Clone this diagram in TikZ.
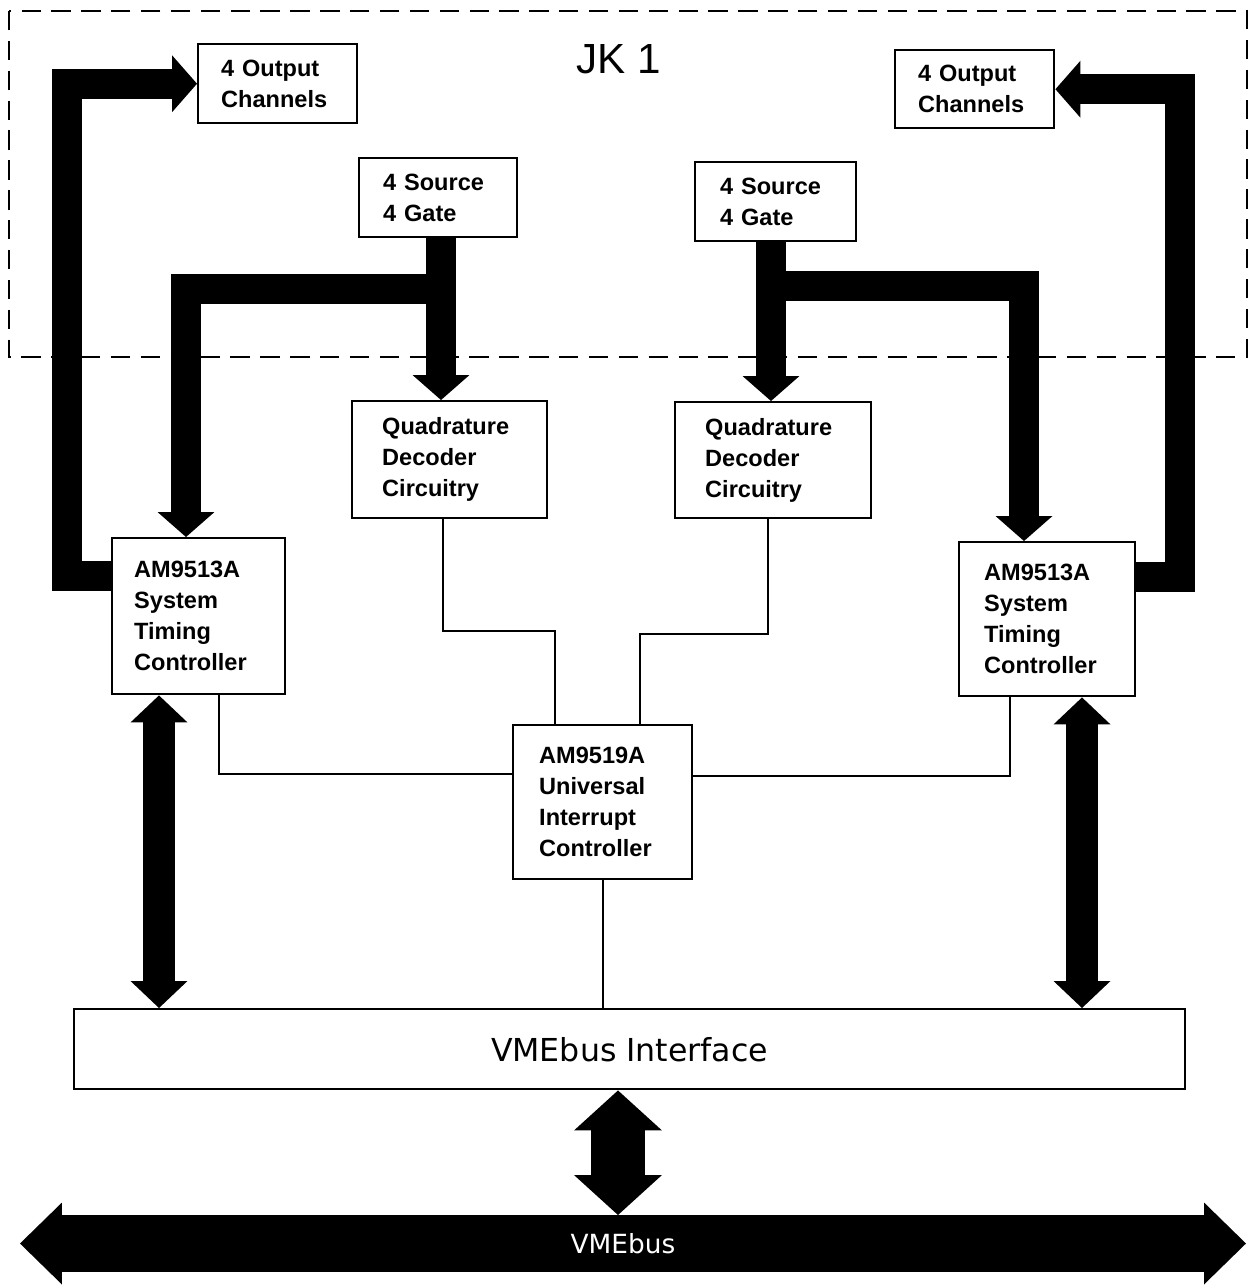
\documentclass[tikz,border=0pt]{standalone}
\usepackage{fontspec}
\setmainfont{Liberation Sans}
\newfontfamily\dejavu{DejaVu Sans}
\usetikzlibrary{arrows.meta}
\newcommand{\boxfont}{\fontsize{13.4}{17.6}\selectfont\bfseries}
\tikzset{
    board/.style={
        line width=1.4pt,
        dash pattern=on 11pt off 6pt
    },
    title/.style={
        font=\fontsize{24}{28}\selectfont
    },
    block/.style={
        draw, line width=1.4pt, fill=white,
        inner sep=0pt, align=left, anchor=north west,
        font=\boxfont
    },
    wire/.style={
        line width=1.1pt
    },
    bustip/.tip={Triangle[length=0.5cm, width=1.14cm, line width=0pt]},
    linktip/.tip={Triangle[length=0.54cm, width=1.14cm, line width=0pt]},
    vmetip/.tip={Triangle[length=0.8cm, width=1.76cm, line width=0pt]},
    widetip/.tip={Triangle[length=0.84cm, width=1.64cm, line width=0pt]},
    bus/.style={
        line width=0.6cm, line join=miter
    },
    bus arrow/.style={bus, -bustip},
    bus both/.style={line width=0.64cm, linktip-linktip},
    vme link/.style={line width=1.1cm, vmetip-vmetip},
    vme bus/.style={line width=1.14cm, widetip-widetip},
    bus label/.style={text=white, font=\dejavu\fontsize{15}{18}\selectfont}
}
\begin{document}
\begin{tikzpicture}[x=0.02cm, y=-0.02cm]
                \useasboundingbox (0,0) rectangle (1254,1286);
                % the JK1 board
                \draw[board] (9,11) rectangle (1247,357);
                \node[title] (jk) at (619,59) {JK 1};
                % blocks
                \node[block, minimum width=3.18cm, minimum height=1.58cm, text width=2.26cm] (out1) at (197,43) {4 Output\\Channels};
                \node[block, minimum width=3.18cm, minimum height=1.56cm, text width=2.26cm] (out2) at (894,49) {4 Output\\Channels};
                \node[block, minimum width=3.16cm, minimum height=1.58cm, text width=2.2cm] (src1) at (358,157) {4 Source\\4 Gate};
                \node[block, minimum width=3.22cm, minimum height=1.58cm, text width=2.22cm] (src2) at (694,161) {4 Source\\4 Gate};
                \node[block, minimum width=3.9cm, minimum height=2.34cm, text width=2.7cm] (quad1) at (351,400) {Quadrature\\Decoder\\Circuitry};
                \node[block, minimum width=3.92cm, minimum height=2.32cm, text width=2.72cm] (quad2) at (674,401) {Quadrature\\Decoder\\Circuitry};
                \node[block, minimum width=3.46cm, minimum height=3.12cm, text width=2.58cm] (am1) at (111,537) {AM9513A\\System\\Timing\\Controller};
                \node[block, minimum width=3.52cm, minimum height=3.08cm, text width=2.52cm] (am2) at (958,541) {AM9513A\\System\\Timing\\Controller};
                \node[block, minimum width=3.58cm, minimum height=3.08cm, text width=2.54cm] (uic) at (512,724) {AM9519A\\Universal\\Interrupt\\Controller};
                \node[block, align=center, font=\dejavu\fontsize{18}{22}\selectfont, minimum width=22.22cm, minimum height=1.6cm] (vme) at (73,1008) {VMEbus Interface};
                % turning points
                \coordinate (cL) at (441,289);
                \coordinate (tL) at (186,289);
                \coordinate (cR) at (771,286);
                \coordinate (tR) at (1024,286);
                \coordinate (oL) at (67,576);
                \coordinate (oR) at (1180,577);
                \coordinate (vL) at (159,0);
                \coordinate (vR) at (1082,0);
                \coordinate (wQL) at (443,631);
                \coordinate (wUL) at (555,631);
                \coordinate (wQR) at (768,634);
                \coordinate (wUR) at (640,634);
                \coordinate (wAL) at (219,774);
                \coordinate (wAR) at (1010,776);
                \coordinate (busTop) at (618,1215);
                % thin lines to the interrupt controller
                \draw[wire] (quad1.south -| wQL) -- (wQL) -- (wUL) -- (uic.north -| wUL);
                \draw[wire] (quad2.south -| wQR) -- (wQR) -- (wUR) -- (uic.north -| wUR);
                \draw[wire] (am1.south -| wAL) -- (wAL) -- (uic.west |- wAL);
                \draw[wire] (am2.south -| wAR) -- (wAR) -- (uic.east |- wAR);
                \draw[wire] (uic.south) -- (vme.north -| uic.south);
                % buses
                \draw[bus arrow] (src1.south -| cL) -- (quad1.north -| cL);
                \draw[bus arrow] (cL) -- (tL) -- (am1.north -| tL);
                \draw[bus arrow] (src2.south -| cR) -- (quad2.north -| cR);
                \draw[bus arrow] (cR) -- (tR) -- (am2.north -| tR);
                \draw[bus arrow] (am1.west |- oL) -- (oL) -- (oL |- out1.west) -- (out1.west);
                \draw[bus arrow] (am2.east |- oR) -- (oR) -- (oR |- out2.east) -- (out2.east);
                \draw[bus both] (am1.south -| vL) -- (vme.north -| vL);
                \draw[bus both] (am2.south -| vR) -- (vme.north -| vR);
                \draw[vme link] (vme.south -| busTop) -- (busTop);
                \draw[vme bus] (20,1243.5) -- (1246,1243.5);
                \node[bus label] (vmebus) at (623,1244) {VMEbus};
            \end{tikzpicture}
\end{document}
